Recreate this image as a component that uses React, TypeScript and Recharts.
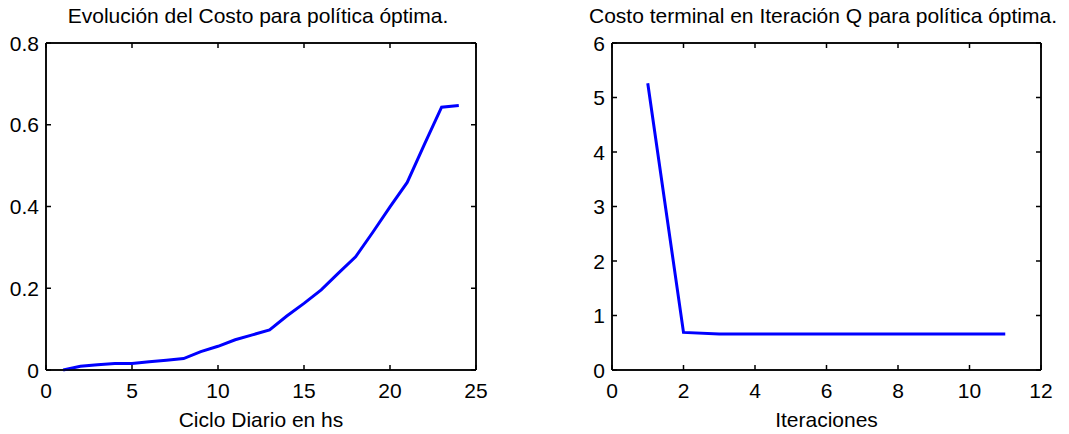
import { LineChart, Line, XAxis, YAxis, Label, ReferenceLine } from "recharts";

// hourly cost along the daily cycle
const hours = [1, 2, 3, 4, 5, 6, 7, 8, 9, 10, 11, 12, 13, 14, 15, 16, 17, 18, 19, 20, 21, 22, 23, 24];
const hourlyCost = [
  0, 0.009, 0.013, 0.016, 0.016, 0.02, 0.024, 0.028, 0.045, 0.058, 0.074, 0.086,
  0.098, 0.132, 0.163, 0.196, 0.237, 0.277, 0.337, 0.399, 0.459, 0.552, 0.643, 0.647,
];

// terminal cost per Q iteration
const iterations = [1, 2, 3, 4, 5, 6, 7, 8, 9, 10, 11];
const terminalCost = [5.26, 0.69, 0.66, 0.66, 0.66, 0.66, 0.66, 0.66, 0.66, 0.66, 0.66];

const hourTicks = [0, 5, 10, 15, 20, 25];
const costTicks = [0, 0.2, 0.4, 0.6, 0.8];
const iterTicks = [0, 2, 4, 6, 8, 10, 12];
const terminalTicks = [0, 1, 2, 3, 4, 5, 6];

const costData = hours.map((h, i) => ({ x: h, y: hourlyCost[i] }));
const iterData = iterations.map((it, i) => ({ x: it, y: terminalCost[i] }));

const FONT = '"Liberation Sans", Arial, sans-serif';
const FS = 21;
const TICK = 5;
const INK = "#000";
const SW = 1.5;

// MATLAB-style ticks: short marks pointing into the box
const BottomTick = ({ x, y, payload }: any) => (
  <g>
    <line x1={x} x2={x} y1={y} y2={y - TICK} stroke={INK} strokeWidth={SW} />
    <text x={x} y={y + 28} textAnchor="middle" fontFamily={FONT} fontSize={FS} fill={INK}>
      {payload.value}
    </text>
  </g>
);

const LeftTick = ({ x, y, payload }: any) => (
  <g>
    <line x1={x} x2={x + TICK} y1={y} y2={y} stroke={INK} strokeWidth={SW} />
    <text x={x - 7} y={y} dy="0.36em" textAnchor="end" fontFamily={FONT} fontSize={FS} fill={INK}>
      {payload.value}
    </text>
  </g>
);

const TopTick = ({ x, y }: any) => <line x1={x} x2={x} y1={y} y2={y + TICK} stroke={INK} strokeWidth={SW} />;

const RightTick = ({ x, y }: any) => <line x1={x} x2={x - TICK} y1={y} y2={y} stroke={INK} strokeWidth={SW} />;

interface PanelOptions {
  data: { x: number; y: number }[];
  width: number;
  yAxisWidth: number;
  rightMargin: number;
  xDomain: [number, number];
  yDomain: [number, number];
  xTicks: number[];
  yTicks: number[];
  xLabel: string;
}

// boxed plot: bottom/left axes carry labels, top/right mirror the ticks
const renderPanel = ({ data, width, yAxisWidth, rightMargin, xDomain, yDomain, xTicks, yTicks, xLabel }: PanelOptions) => (
  <LineChart width={width} height={434} data={data} margin={{ top: 42, right: rightMargin, left: 0, bottom: 0 }}>
    <XAxis
      dataKey="x"
      type="number"
      domain={xDomain}
      ticks={xTicks}
      interval={0}
      height={64}
      stroke={INK}
      tickSize={0}
      tickMargin={0}
      tickLine={false}
      tick={<BottomTick />}
      axisLine={{ stroke: INK, strokeWidth: SW }}
    >
      <Label value={xLabel} position="insideBottom" offset={7} fontFamily={FONT} fontSize={FS} fill={INK} />
    </XAxis>
    <XAxis
      xAxisId="top"
      dataKey="x"
      orientation="top"
      type="number"
      domain={xDomain}
      ticks={xTicks}
      interval={0}
      height={1}
      stroke={INK}
      tickSize={0}
      tickMargin={0}
      tickLine={false}
      tick={<TopTick />}
      axisLine={{ stroke: INK, strokeWidth: SW }}
    />
    <YAxis
      type="number"
      domain={yDomain}
      ticks={yTicks}
      interval={0}
      width={yAxisWidth}
      stroke={INK}
      tickSize={0}
      tickMargin={0}
      tickLine={false}
      tick={<LeftTick />}
      axisLine={{ stroke: INK, strokeWidth: SW }}
    />
    <YAxis
      yAxisId="right"
      orientation="right"
      type="number"
      domain={yDomain}
      ticks={yTicks}
      interval={0}
      width={1}
      stroke={INK}
      tickSize={0}
      tickMargin={0}
      tickLine={false}
      tick={<RightTick />}
      axisLine={{ stroke: INK, strokeWidth: SW }}
    />
    {/* box edges drawn in the plot layer as well */}
    <ReferenceLine x={xDomain[0]} stroke={INK} strokeWidth={SW} ifOverflow="visible" />
    <ReferenceLine x={xDomain[1]} stroke={INK} strokeWidth={SW} ifOverflow="visible" />
    <ReferenceLine y={yDomain[0]} stroke={INK} strokeWidth={SW} ifOverflow="visible" />
    <ReferenceLine y={yDomain[1]} stroke={INK} strokeWidth={SW} ifOverflow="visible" />
    {/* invisible twin so the mirrored top/right axes share the scale */}
    <Line
      xAxisId="top"
      yAxisId="right"
      dataKey="y"
      stroke="none"
      dot={false}
      activeDot={false}
      isAnimationActive={false}
    />
    <Line
      type="linear"
      dataKey="y"
      stroke="#0000ff"
      strokeWidth={3}
      dot={false}
      activeDot={false}
      isAnimationActive={false}
    />
  </LineChart>
);

const titleStyle = (left: number, width: number): React.CSSProperties => ({
  position: "absolute",
  left,
  width,
  top: 4,
  textAlign: "center",
  fontFamily: FONT,
  fontSize: FS,
  lineHeight: "24px",
  color: INK,
  whiteSpace: "nowrap",
});

export default function App() {
  return (
    <div style={{ position: "absolute", left: 0, top: 0, width: 1069, height: 434 }}>
      <div style={{ position: "absolute", left: 0, top: 0 }}>
        {renderPanel({
          data: costData,
          width: 530,
          yAxisWidth: 46,
          rightMargin: 53,
          xDomain: [0, 25],
          yDomain: [0, 0.8],
          xTicks: hourTicks,
          yTicks: costTicks,
          xLabel: "Ciclo Diario en hs",
        })}
      </div>
      <div style={{ position: "absolute", left: 560, top: 0 }}>
        {renderPanel({
          data: iterData,
          width: 509,
          yAxisWidth: 52,
          rightMargin: 27,
          xDomain: [0, 12],
          yDomain: [0, 6],
          xTicks: iterTicks,
          yTicks: terminalTicks,
          xLabel: "Iteraciones",
        })}
      </div>
      <div style={titleStyle(58, 400)}>Evolución del Costo para política óptima.</div>
      <div style={titleStyle(573, 500)}>Costo terminal en Iteración Q para política óptima.</div>
    </div>
  );
}
